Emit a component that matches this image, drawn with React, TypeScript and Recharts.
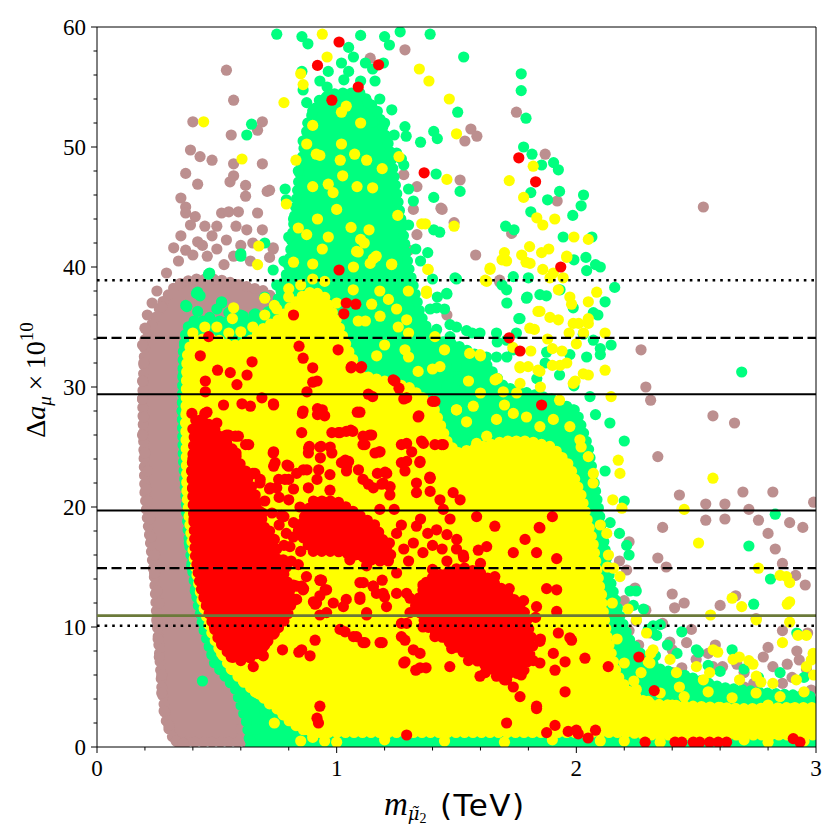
import { ComposedChart, Area, Scatter, XAxis, YAxis, ReferenceLine } from 'recharts';

type Pt = [number, number];
type Band = [number, number, number];

// tick values
const xTickValues = [0, 0.2, 0.4, 0.6, 0.8, 1, 1.2, 1.4, 1.6, 1.8, 2, 2.2, 2.4, 2.6, 2.8, 3];
const xMajorTicks = [0, 1, 2, 3];
const yTickValues = [0, 2, 4, 6, 8, 10, 12, 14, 16, 18, 20, 22, 24, 26, 28, 30, 32, 34, 36, 38, 40, 42, 44, 46, 48, 50, 52, 54, 56, 58, 60];
const yMajorTicks = [0, 10, 20, 30, 40, 50, 60];

// horizontal bands on Delta a_mu
const centralLines = [19.7, 29.4];
const twoSigmaLines = [14.9, 34.1];
const threeSigmaLines = [10.1, 38.9];
const oliveLine = 10.95;

// dense cores of each point cloud: [x, low, high]
const brownBand: Band[] = [
  [0.19, 29, 29], [0.2, 21, 34], [0.21, 19, 34.5], [0.22, 17.5, 35], [0.24, 14, 35.5],
  [0.25, 10.5, 36], [0.26, 8, 36.5], [0.27, 5, 37], [0.29, 2, 37.5], [0.31, 1, 38],
  [0.33, 0.4, 38.5], [0.4, 0.4, 39], [0.5, 0.4, 39], [0.6, 0.4, 38.5], [0.7, 0.4, 38],
  [0.76, 0.4, 37], [0.8, 0.4, 34], [0.82, 10, 10],
];

const greenBand: Band[] = [
  [0.355, 28, 28], [0.36, 24, 33], [0.37, 21, 34.5], [0.38, 18, 35], [0.4, 14.5, 35.5],
  [0.42, 12, 35.5], [0.446, 9.75, 35.5], [0.47, 8.2, 35.5], [0.49, 7, 35.5], [0.53, 6, 35.5],
  [0.58, 4.75, 35.5], [0.6, 3.5, 35.5], [0.625, 2, 35.5], [0.64, 0, 35.5], [0.7, 0, 36],
  [0.75, 0, 37], [0.8, 0, 40], [0.84, 0, 47], [0.88, 0, 52], [0.93, 0, 54], [1.0, 0, 54.5],
  [1.1, 0, 54.5], [1.17, 0, 53], [1.22, 0, 50], [1.26, 0, 45], [1.3, 0, 40], [1.35, 0, 36],
  [1.4, 0, 34], [1.5, 0, 33.5], [1.6, 0, 32.5], [1.7, 0, 30], [1.8, 0, 29.5], [1.9, 0, 29],
  [2.0, 0, 28], [2.05, 0, 25], [2.1, 0, 19], [2.14, 0, 14], [2.18, 0, 11], [2.22, 0, 9],
  [2.28, 0, 7.5], [2.35, 0, 6.5], [2.45, 0, 6], [2.6, 0, 5], [2.8, 0, 4.5], [3.0, 0, 4.2],
];

const yellowBand: Band[] = [
  [0.37, 27, 27], [0.375, 21, 32.5], [0.39, 18, 33.5], [0.41, 15, 34], [0.44, 12, 34],
  [0.47, 10, 34], [0.5, 8.5, 34], [0.55, 6.8, 33.5], [0.6, 5.6, 33.5], [0.65, 4.8, 34],
  [0.7, 4, 35], [0.75, 3.2, 35.5], [0.8, 2.2, 36.5], [0.85, 1.5, 37.5], [0.9, 1.2, 38],
  [0.95, 1.2, 37.5], [1.0, 1.2, 35.5], [1.05, 1.2, 33], [1.1, 1.2, 31], [1.2, 1.2, 30.5],
  [1.3, 1.2, 30], [1.4, 1.2, 28.5], [1.46, 1.2, 25.5], [1.5, 1.2, 24.5], [1.6, 1.2, 25],
  [1.7, 1.2, 25.5], [1.8, 1.2, 25.5], [1.9, 1.2, 25], [1.97, 1.2, 23.5], [2.02, 1.2, 21],
  [2.07, 1.2, 17], [2.1, 1.2, 13], [2.13, 1.2, 9], [2.17, 1.2, 6], [2.22, 1.2, 4.6],
  [2.3, 1.0, 3.6], [2.5, 1.0, 3.4], [2.7, 1.0, 3.2], [2.9, 1.0, 3.3], [3.0, 1.0, 3.3],
];

const redBandA: Band[] = [
  [0.395, 23, 23], [0.41, 16, 27.2], [0.43, 13.5, 27.5], [0.46, 11.5, 27], [0.48, 10.4, 26.7],
  [0.51, 8.8, 26], [0.56, 7.5, 25], [0.6, 7.3, 23.5], [0.65, 7.5, 21.5], [0.68, 8, 19.5],
  [0.72, 9, 17], [0.76, 10, 15.3], [0.8, 11.2, 13.5], [0.815, 12.3, 12.3],
];

const redBandB: Band[] = [
  [1.33, 11.8, 11.8], [1.38, 10, 14], [1.45, 9, 14.5], [1.52, 8, 15], [1.6, 7, 14.5],
  [1.67, 6.3, 13.5], [1.73, 6, 12.5], [1.78, 6.3, 11.5], [1.82, 8.5, 8.5],
];

const redBandC: Band[] = [
  [0.84, 18, 18], [0.9, 16.3, 20.5], [1.0, 16.3, 20.5], [1.08, 16, 19.5], [1.16, 15.5, 18.5],
  [1.24, 15.5, 15.5],
];

// individual points: [x (TeV), Delta a_mu x 1e10]
const brownPoints: Pt[] = [
  [0.54, 56.4], [0.57, 53.9], [0.4, 52.1], [0.69, 52.1], [0.67, 51.4], [0.56, 51.0], [0.39, 49.75],
  [0.43, 49.2], [0.48, 48.9], [0.37, 47.8], [0.57, 48.6], [0.69, 48.6], [0.42, 46.9], [0.555, 47.1],
  [0.57, 47.6], [0.62, 46.8], [0.71, 46.3], [0.35, 45.75], [0.37, 45], [0.62, 45.9], [0.52, 44.5],
  [0.55, 44.6], [0.59, 44.6], [0.67, 44.5], [0.37, 44.5], [0.41, 44.2], [0.39, 43.5], [0.45, 43.4],
  [0.5, 43.4], [0.625, 43.1], [0.69, 43.1], [0.32, 41.6], [0.37, 41.4], [0.42, 42.1], [0.46, 40.9],
  [0.54, 42.25], [0.57, 40.9], [0.735, 41.6], [0.79, 40.4], [0.53, 40.2], [0.35, 42.6], [0.4, 41.0],
  [0.44, 41.8], [0.5, 41.5], [0.6, 41.8], [0.64, 40.5], [0.72, 40.8], [0.27, 36.7], [0.2, 34.9],
  [0.25, 38], [0.29, 39.5], [0.34, 40.5], [0.48, 42.6], [0.65, 42.0], [0.58, 43.4],
  [0.19, 33.5], [0.195, 32], [0.19, 30.5], [0.19, 29], [0.195, 27.5], [0.19, 26], [0.2, 24.5],
  [0.21, 23], [0.205, 21.5], [0.21, 20.5], [0.22, 19], [0.225, 17.5], [0.24, 16], [0.24, 14.5],
  [0.25, 13], [0.26, 12], [0.25, 10.5], [0.255, 9], [0.26, 7.5], [0.27, 6], [0.27, 4.5], [0.28, 3],
  [0.3, 1.8], [0.33, 0.5], [0.36, 0.3], [0.21, 36], [0.23, 37],
  [0.6, 1.5], [0.62, 3], [0.64, 0.5], [0.7, 0.6], [0.74, 1.2], [0.72, 2.6], [0.68, 1.5], [0.76, 0.4],
  [1.75, 52.9], [1.56, 51.5], [1.585, 50.9], [1.535, 50.5], [1.87, 49.4], [1.515, 47.25], [1.92, 45.5],
  [1.435, 44.9], [2.53, 45.0], [1.49, 43.7], [1.73, 42.8], [1.58, 41.0], [1.68, 38.9], [1.46, 36.0],
  [2.27, 33.1], [2.29, 30.0], [2.31, 28.9], [2.57, 27.6], [2.66, 27.0], [1.285, 58.1], [1.14, 57.4],
  [1.28, 47.7], [1.335, 46.7], [1.32, 44.8], [1.44, 44.8], [1.27, 43.75], [1.335, 42.7], [1.3, 41.4],
  [0.72, 46.4], [0.84, 45.0], [0.735, 41.5], [1.77, 28.5], [1.57, 30.2], [1.54, 31.5], [1.68, 38.75],
  [2.34, 24.2], [2.43, 21.0], [2.54, 20.25], [2.62, 20.25], [2.695, 21.25], [2.82, 21.25], [2.72, 19.8],
  [2.54, 18.9], [2.62, 19.0], [2.76, 18.9], [2.89, 18.7], [2.945, 18.3], [2.99, 20.4], [2.36, 18.3],
  [2.8, 17.8], [2.22, 17.1], [2.83, 16.5], [2.34, 15.75], [2.375, 15.0], [2.21, 14.75], [2.86, 15.3],
  [2.915, 14.3], [2.955, 13.5], [2.245, 13.25], [2.4, 12.75], [2.665, 12.6], [2.6, 11.8], [2.45, 12.0],
  [2.41, 11.6], [2.29, 11.4], [2.75, 10.7], [2.86, 9.7], [2.965, 9.5], [2.31, 9.5], [2.39, 8.75],
  [2.46, 8.7], [2.58, 8.5], [2.4, 8.1], [2.57, 6.7], [2.61, 6.7], [2.67, 6.9], [2.78, 7.5], [2.82, 6.7],
  [2.88, 6.9], [2.93, 7.25], [2.96, 6.5], [2.44, 6.6], [2.74, 5.3], [2.86, 5.3], [2.98, 4.75],
  [2.63, 4.75], [2.53, 5.1], [2.46, 4.5], [2.32, 6.7], [2.4, 6.2], [2.2, 12.2], [2.25, 10.5],
  [2.36, 10.3], [2.5, 7.3], [2.55, 7.8], [2.7, 6.2], [2.9, 5.8], [2.92, 8.0], [2.8, 8.3], [2.7, 5.0],
  [2.48, 9.8], [2.26, 8.5], [2.22, 9.7], [2.18, 15.5],
];

const greenPoints: Pt[] = [
  [0.75, 59.4], [0.855, 59.2], [0.88, 58.6], [1.1, 59.3], [1.2, 59.2], [1.265, 59.6], [1.22, 58.5],
  [1.05, 58.3], [1.07, 57.5], [1.12, 57.0], [1.195, 57.0], [1.02, 57.0], [0.855, 56.3], [0.965, 56.3],
  [1.05, 56.3], [1.15, 56.5], [0.86, 54.75], [0.93, 55.5], [1.03, 55.6], [1.1, 55.5], [1.16, 55.5],
  [0.875, 53.7], [0.95, 54.0], [1.04, 54.0], [1.13, 53.7], [1.23, 53.1], [1.285, 51.7], [1.15, 52.1],
  [1.29, 50.9], [1.25, 49.5], [1.28, 48.5], [1.3, 46.5], [1.32, 45.5], [1.3, 43.5], [1.33, 41.5],
  [1.35, 40.5], [1.4, 39.0], [1.42, 37.5], [1.45, 36.5], [1.5, 35.0], [1.39, 59.4], [1.53, 57.5],
  [1.77, 56.1], [1.77, 54.7], [1.505, 52.9], [1.79, 52.4], [1.405, 51.3], [1.42, 50.7], [1.35, 50.4],
  [1.78, 50.0], [1.815, 49.4], [1.855, 48.5], [1.905, 48.7], [1.925, 48.1], [1.415, 47.75], [1.515, 46.3],
  [1.405, 45.8], [1.93, 46.3], [1.88, 45.6], [2.03, 46.0], [2.02, 45.1], [1.81, 46.2], [1.81, 44.6],
  [1.985, 44.3], [1.705, 43.4], [1.74, 43.1], [1.405, 43.1], [1.43, 42.9], [2.065, 42.5], [1.38, 41.2],
  [1.945, 42.5], [2.04, 40.8], [2.08, 40.2], [2.1, 40.0], [1.99, 40.6], [1.5, 39.0], [1.46, 37.75],
  [1.8, 39.1], [1.69, 38.5], [1.71, 37.0], [1.795, 37.5], [2.16, 38.3], [1.875, 37.6], [2.12, 37.1],
  [2.09, 36.0], [1.76, 35.7], [1.39, 36.5], [1.565, 34.5], [1.41, 34.5], [1.67, 33.75], [1.75, 34.5],
  [2.145, 33.5], [2.1, 33.2], [2.1, 32.7], [1.625, 32.5], [1.58, 32.3], [1.71, 32.5], [1.87, 32.0],
  [1.93, 31.0], [1.835, 30.7], [2.69, 31.25], [1.99, 30.1], [2.08, 27.7], [1.95, 28.1],
  [1.459, 37.8], [1.417, 36.6], [1.494, 39.1], [1.709, 38.1], [1.737, 39.2], [1.792, 37.4], [1.848, 37.7],
  [1.932, 38.1], [2.043, 39.7], [1.987, 36.6], [2.071, 36.2], [1.765, 35.7], [1.737, 33.1], [1.667, 32.5],
  [1.57, 32.3], [1.5, 31.7], [1.528, 30.4], [1.57, 29.2], [1.876, 32.9], [1.973, 32.7], [2.043, 32.5],
  [2.071, 33.9], [2.029, 34.4], [1.82, 29.2], [1.904, 28.6], [1.987, 28.1], [2.057, 29.2], [1.473, 35.2],
  [1.417, 34.8], [1.542, 34.7], [1.598, 34.5], [1.473, 34.2], [1.667, 34.5], [1.709, 33.9], [1.507, 30.6],
  [1.459, 30.1], [1.431, 29.0], [1.514, 28.4], [1.486, 26.7], [1.528, 25.6],
  [0.785, 46.5], [0.79, 45.6], [0.645, 51.9], [0.625, 51.0], [0.7, 42.0], [0.735, 39.75], [0.465, 39.4],
  [0.415, 37.8], [0.6, 40.9], [0.37, 36.8], [0.52, 37.0], [0.61, 35.9], [0.66, 36.1], [0.42, 37.9],
  [0.43, 37.6], [0.375, 36.7], [0.42, 36.3], [0.47, 35.8], [0.52, 37.1], [0.6, 36.0], [0.58, 34.9],
  [0.655, 36.0], [0.47, 39.5], [0.6, 41.1], [0.5, 36.5], [0.55, 36.2], [0.7, 37.5], [0.75, 38.5],
  [0.78, 40.5], [0.8, 42.5], [0.82, 44], [0.84, 48], [0.86, 50.5], [0.9, 53], [0.88, 52], [0.96, 55],
  [1.0, 53.5], [1.08, 54.5], [1.2, 52], [1.18, 54], [1.24, 51], [1.27, 49],
  [2.83, 19.4], [2.72, 16.75], [2.81, 14.0], [2.74, 11.9], [2.18, 17.8], [2.44, 9.6], [2.65, 8.1],
  [2.51, 7.9], [2.35, 10.2], [2.33, 7.6], [2.92, 9.5], [2.76, 5.8], [2.2, 20.5], [2.22, 16], [2.25, 13],
  [2.28, 11.5], [2.3, 9.8], [2.38, 8.5], [2.42, 7.8], [2.55, 6.8], [2.6, 6.3], [2.7, 6.5], [2.85, 6.2],
  [2.95, 5.8], [2.2, 25.5], [2.14, 27], [2.12, 23], [2.141, 18.7], [2.21, 16.8], [2.224, 13.0],
  [2.238, 11.8], [2.321, 10.1], [2.335, 9.3], [2.501, 8.1], [2.404, 5.6], [2.46, 5.1], [2.556, 4.8],
  [0.64, 0.5], [0.66, 1.5], [0.7, 3], [0.68, 4.5], [0.64, 5.2], [0.6, 5.5], [0.44, 5.5], [0.57, 6.2],
  [0.53, 7.2], [0.5, 8], [0.47, 9.2], [0.44, 11], [0.41, 13], [0.395, 15], [0.385, 17], [0.375, 19.5],
  [0.37, 22], [0.365, 25], [0.36, 28], [0.36, 31], [0.365, 33.5],
];

const yellowPoints: Pt[] = [
  [0.94, 59.4], [0.96, 57.5], [0.85, 56.1], [0.86, 55.2], [0.78, 53.7], [1.04, 53.4], [1.02, 52.9],
  [1.345, 56.5], [1.385, 55.5], [1.47, 54.0], [1.5, 51.1], [0.9, 51.8], [1.1, 52.0], [0.875, 50.25],
  [1.02, 50.25], [0.915, 49.4], [0.93, 49.3], [1.075, 49.4], [1.125, 48.9], [1.26, 49.2], [0.83, 48.9],
  [1.015, 48.9], [1.19, 48.2], [1.025, 47.6], [0.9, 46.7], [0.965, 46.9], [0.985, 46.2], [1.085, 46.7],
  [1.15, 46.6], [1.46, 47.3], [0.79, 45.25], [1.0, 44.8], [1.255, 44.3], [0.92, 44.0], [0.84, 43.25],
  [0.875, 42.7], [0.965, 42.5], [1.06, 43.3], [1.135, 43.1], [1.355, 43.6], [1.49, 43.4], [1.1, 42.3],
  [1.115, 42.0], [0.94, 41.5], [1.09, 41.25], [1.165, 40.9], [0.82, 40.4], [0.9, 40.25], [1.07, 40.0],
  [1.14, 40.3], [1.23, 40.25], [1.38, 39.8], [0.445, 52.1], [0.605, 49.0], [0.675, 41.75], [0.67, 40.2],
  [0.8, 38.2], [0.7, 37.4], [0.74, 36.8], [0.57, 36.6], [0.565, 35.7],
  [1.82, 48.4], [1.72, 47.2], [1.78, 45.8], [1.835, 44.1], [1.86, 43.5], [1.91, 44.0], [1.37, 43.6],
  [1.99, 42.5], [1.805, 41.7], [1.885, 41.5], [1.7, 41.2], [1.69, 40.6], [1.64, 39.8], [1.62, 38.9],
  [1.79, 40.4], [1.86, 39.8], [1.89, 39.1], [1.925, 38.1], [1.945, 39.1], [1.96, 40.8], [1.375, 37.8],
  [1.84, 36.3], [1.89, 35.8], [1.98, 36.9], [2.085, 37.9], [2.01, 35.3], [2.05, 35.7], [1.825, 34.8],
  [1.97, 34.5], [2.03, 34.5], [2.12, 34.5], [1.9, 33.2], [1.735, 33.3], [1.81, 33.0], [1.94, 33.0],
  [1.555, 32.8], [1.6, 32.6], [1.45, 33.1], [1.765, 31.6], [1.84, 31.4], [1.9, 31.8], [1.995, 30.5],
  [2.05, 31.0], [2.12, 31.4], [2.145, 29.2], [1.93, 28.9], [1.765, 30.3], [1.67, 30.7], [1.5, 28.1],
  [1.88, 34.0], [1.96, 32.0], [2.0, 33.6], [1.85, 30.0], [1.7, 28.5], [1.6, 29.5], [1.55, 30.5],
  [1.4, 31.5], [1.3, 32.5], [1.2, 33.5], [1.12, 35.5], [1.25, 36.5], [1.18, 38.0], [1.3, 34.5],
  [1.083, 41.3], [1.153, 40.7], [1.229, 40.2], [1.382, 39.8], [1.64, 39.9], [1.626, 38.8], [1.709, 40.5],
  [1.772, 41.0], [1.807, 40.3], [1.855, 41.2], [1.904, 39.5], [1.96, 40.9], [2.05, 42.3], [1.069, 38.1],
  [1.146, 36.9], [1.216, 37.3], [1.299, 38.0], [1.375, 38.0], [1.09, 35.5], [1.181, 35.9], [1.257, 35.0],
  [1.292, 35.6], [1.41, 34.2], [1.167, 32.6], [1.285, 33.1], [1.34, 31.3], [1.431, 31.7], [1.598, 32.7],
  [1.661, 30.6], [1.695, 29.6], [1.751, 29.5], [1.799, 31.7], [1.848, 31.3], [1.932, 31.8], [1.987, 30.3],
  [2.029, 31.1], [2.05, 35.3], [1.987, 35.3], [1.925, 35.6], [1.848, 36.3], [1.973, 37.5], [2.05, 37.1],
  [1.806, 34.9], [1.765, 31.7], [1.626, 25.9], [1.584, 25.3], [1.5, 28.1], [1.542, 27.1], [1.57, 28.4],
  [1.667, 27.3], [1.737, 27.8], [1.792, 27.5], [1.848, 26.7], [1.904, 27.3], [1.973, 26.7], [2.015, 25.6],
  [2.05, 24.2], [2.071, 22.8],
  [2.57, 22.4], [2.45, 19.8], [2.51, 17.0], [2.76, 14.9], [2.85, 14.3], [2.89, 13.7], [2.65, 12.4],
  [2.69, 11.7], [2.88, 11.9], [2.56, 11.0], [2.89, 10.4], [2.96, 9.3], [2.86, 8.7], [2.59, 7.9],
  [2.68, 7.5], [2.72, 7.2], [2.98, 7.25], [2.99, 6.0], [2.77, 5.4], [2.53, 5.6], [2.43, 5.0],
  [2.31, 7.8], [2.3, 7.1], [2.27, 6.2], [2.175, 23.9], [2.182, 22.8], [2.152, 20.6], [2.19, 19.9],
  [2.127, 17.8], [2.134, 16.0], [2.155, 14.9], [2.182, 14.2], [2.105, 12.7], [2.216, 11.5],
  [2.251, 10.6], [2.293, 9.5], [2.32, 8.1], [2.307, 7.0], [2.391, 7.3], [2.418, 6.2], [2.501, 6.7],
  [2.556, 6.2], [2.681, 5.6], [2.751, 5.9], [2.82, 5.3], [2.918, 5.6], [2.96, 6.7], [2.988, 7.8],
  [2.737, 6.9], [2.654, 7.3], [2.571, 8.1], [2.751, 10.6], [2.877, 14.2], [2.89, 12.1], [2.925, 9.3],
  [2.25, 4.8], [2.35, 4.5], [2.45, 4.2], [2.55, 4.6], [2.65, 4.1], [2.75, 4.5], [2.85, 4.2],
  [2.95, 4.6], [2.4, 3.5], [2.3, 3.8], [2.6, 3.3], [2.8, 3.5], [2.9, 3.2], [2.2, 0.5], [2.35, 0.4],
  [2.6, 0.6], [2.8, 0.4], [2.95, 0.5], [2.5, 0.5], [2.7, 0.6],
  [0.85, 0.5], [1.0, 0.4], [1.2, 0.6], [1.45, 0.5], [1.7, 0.4], [1.9, 0.6], [2.1, 0.5],
  [0.38, 31], [0.375, 28], [0.38, 25], [0.38, 22], [0.39, 19.5], [0.41, 16.5], [0.43, 13.5],
  [0.455, 11.5], [0.48, 9.5], [0.52, 7.8], [0.56, 6.5], [0.61, 5.5], [0.66, 4.6], [0.72, 3.8],
  [0.77, 3.0], [0.82, 2.2], [0.88, 1.5], [0.68, 4.4], [0.72, 3.6], [0.78, 3.0], [0.85, 2.3],
  [0.74, 2.0], [0.9, 0.8], [0.95, 0.5],
  [0.4, 34.5], [0.45, 35], [0.5, 35], [0.55, 34.5], [0.6, 34.6], [0.65, 35], [0.7, 36], [0.75, 36.5],
  [0.8, 37.5], [0.85, 38.5], [0.9, 39], [0.95, 38.8], [1.0, 37],
  [2.02, 25], [2.07, 22], [2.1, 18.5], [2.13, 15], [2.15, 12], [2.17, 9], [2.2, 7], [2.24, 5.5],
];

const redPoints: Pt[] = [
  [0.92, 56.8], [1.01, 58.75], [1.175, 56.85], [1.09, 55.0], [0.98, 53.9], [1.365, 47.85], [1.01, 39.75],
  [1.76, 49.1], [1.83, 47.1], [1.935, 40.0], [1.72, 34.1], [1.765, 33.0], [1.855, 28.5], [0.82, 36.0],
  [1.04, 37.0], [1.08, 36.9], [1.03, 36.1], [1.006, 33.1], [1.06, 31.6], [1.1, 31.6], [1.236, 30.6],
  [1.26, 29.9], [1.15, 29.2], [1.28, 29.0], [1.4, 28.8], [1.34, 27.5], [0.86, 28.0], [0.92, 28.2],
  [0.95, 27.6], [0.843, 33.4], [0.86, 32.4], [0.9, 31.6], [0.9, 30.4], [0.918, 30.5], [0.876, 29.6],
  [0.466, 34.2], [0.431, 32.6], [0.503, 31.4], [0.556, 31.2], [0.626, 31.0], [0.647, 32.1], [0.584, 30.2],
  [0.452, 30.5], [0.452, 29.6], [0.528, 28.5], [0.605, 28.6], [0.64, 28.4], [0.688, 29.1], [0.737, 28.5],
  [0.396, 27.8], [0.459, 27.9], [0.736, 28.6], [0.857, 27.8], [0.92, 27.7], [0.94, 28.1], [1.097, 27.9],
  [1.343, 27.6], [1.41, 28.8],
  [0.549, 26.0], [0.577, 25.9], [0.633, 25.2], [0.737, 24.6], [0.793, 23.5], [0.737, 23.4], [0.883, 24.9],
  [0.973, 25.0], [0.925, 23.1], [0.876, 23.1], [0.8, 22.3], [0.918, 22.3], [1.036, 23.9], [0.64, 22.7],
  [0.681, 22.3], [0.723, 21.6], [0.758, 22.3], [0.59, 25.9], [0.62, 25.2], [0.854, 26.2], [0.98, 26.2],
  [1.04, 26.3], [1.11, 25.9], [0.735, 24.5], [0.8, 23.4], [0.882, 24.5], [0.93, 25.0], [0.98, 24.5],
  [1.02, 23.7], [1.16, 24.5], [1.17, 22.8], [1.27, 25.2], [1.27, 23.7], [0.65, 22.8], [0.68, 22.0],
  [0.62, 21.4], [1.007, 26.2], [1.067, 26.3], [1.146, 26.0], [1.292, 25.3], [1.362, 25.3], [1.41, 25.2],
  [1.445, 25.2], [0.886, 25.05], [0.935, 25.05], [1.118, 25.2], [1.178, 24.6], [0.743, 23.7], [0.932, 24.1],
  [1.05, 23.8], [1.292, 23.8], [1.347, 23.7], [0.659, 22.8], [0.861, 23.1], [0.972, 22.7], [1.041, 23.0],
  [1.202, 22.9], [1.285, 23.0], [1.39, 22.4], [0.784, 22.3], [0.833, 22.8], [1.11, 22.3], [1.194, 22.0],
  [1.333, 22.0], [1.39, 21.3], [1.486, 21.2], [0.75, 21.6], [0.882, 21.6], [0.972, 21.4], [1.153, 21.6],
  [1.222, 21.0], [1.431, 20.6], [1.515, 20.6], [1.062, 31.7], [1.104, 31.7], [1.243, 30.5], [1.132, 29.4],
  [1.292, 29.1], [1.086, 27.9], [1.059, 26.4], [1.138, 26.0], [1.11, 25.2], [1.181, 24.6], [1.354, 25.5],
  [1.438, 25.2], [1.313, 24.6], [1.348, 23.8], [1.389, 22.4], [1.209, 22.8], [1.188, 21.9], [1.223, 21.7],
  [1.042, 23.4], [1.091, 23.1], [1.132, 21.9], [1.014, 26.2], [1.333, 21.2],
  [0.666, 18.4], [0.77, 19.3], [0.847, 20.0], [0.819, 17.5], [0.805, 16.7], [0.777, 15.6], [1.055, 17.3],
  [1.25, 17.8], [1.333, 18.4], [1.417, 18.1], [1.501, 17.3], [1.473, 19.0], [1.445, 19.8], [1.528, 16.0],
  [0.874, 14.2], [0.93, 13.9], [0.958, 13.1], [0.86, 13.1], [0.916, 12.0], [1.097, 13.7], [1.097, 12.3],
  [1.153, 13.4], [1.194, 12.8], [1.25, 14.5], [1.292, 12.8], [1.362, 13.4], [1.417, 12.3], [1.473, 12.8],
  [1.528, 11.4], [1.208, 11.7], [1.125, 11.2], [1.028, 11.7], [0.958, 11.2], [0.833, 12.3], [1.306, 11.2],
  [0.78, 19.2], [0.82, 18.7], [0.86, 17.6], [0.866, 19.2], [0.854, 13.4], [0.937, 13.9], [0.903, 12.1],
  [0.986, 12.0], [1.04, 12.3], [1.166, 12.8], [1.19, 13.9], [1.125, 15.1], [1.014, 9.8], [1.07, 9.2],
  [1.11, 8.7], [1.19, 8.7], [1.27, 10.3], [1.27, 9.2], [1.28, 7.0], [1.32, 8.1], [1.33, 6.4], [0.93, 11.0],
  [0.93, 12.6], [0.854, 8.1], [0.774, 8.1], [0.694, 7.6], [0.652, 6.7], [0.889, 7.6], [0.93, 3.4],
  [0.924, 2.0], [1.292, 1.0], [0.689, 7.7], [0.842, 7.9], [0.91, 8.9], [0.932, 13.9], [0.862, 13.2],
  [0.91, 11.9], [0.952, 13.1], [0.834, 13.4], [0.82, 12.2], [0.918, 2.4],
  [0.7, 20.5], [0.73, 19.5], [0.76, 18.5], [0.79, 17.8], [0.72, 21.5], [0.76, 20.8], [0.8, 20.6],
  [0.82, 21.5], [0.7, 16.8], [0.74, 17.3], [0.78, 16.8], [0.81, 15.5], [0.84, 15.2], [0.85, 16.3],
  [1.28, 16.5], [1.32, 17], [1.36, 16.2], [1.4, 16.8], [1.44, 16.5], [1.38, 17.8], [1.3, 15.5],
  [1.46, 17.7], [1.5, 16.5], [1.35, 19], [1.27, 18.5], [1.22, 17], [1.18, 19.8], [1.24, 19.8],
  [1.584, 19.2], [1.66, 18.4], [1.845, 18.3], [1.9, 19.2], [1.786, 17.3], [1.737, 16.2], [1.834, 16.2],
  [1.918, 15.7], [1.626, 16.7], [1.591, 16.4], [1.876, 13.2], [1.918, 13.1], [1.918, 11.3], [1.834, 11.7],
  [1.925, 9.5], [1.973, 9.1], [1.848, 8.8], [1.904, 7.8], [1.953, 7.1], [2.036, 7.4], [1.848, 7.0],
  [1.911, 6.4], [1.953, 4.6], [1.834, 3.2], [1.709, 2.0], [1.876, 1.2], [1.911, 1.8], [1.966, 1.3],
  [2.008, 1.1], [2.049, 0.75], [1.035, 9.6], [1.083, 9.2], [1.118, 8.7], [1.181, 8.7], [1.125, 11.0],
  [1.097, 12.5], [1.111, 13.7], [1.055, 15.6], [1.152, 13.4], [1.2, 12.5], [1.25, 12.8], [1.306, 12.4],
  [1.292, 10.3], [1.285, 8.9], [1.348, 7.8], [1.285, 7.1], [1.348, 6.6], [1.373, 6.6], [1.472, 6.7],
  [1.737, 5.0], [1.765, 4.2], [1.598, 5.9], [1.667, 5.9], [1.709, 5.6], [1.389, 22.5], [1.848, 18.25],
  [1.98, 8.9], [2.133, 6.7], [1.834, 3.4], [2.0, 1.4], [2.08, 1.4],
  [2.261, 7.5], [2.325, 4.7], [2.287, 0.4], [2.412, 0.4], [2.44, 0.4], [2.488, 0.4], [2.515, 0.4],
  [2.556, 0.4], [2.592, 0.4], [2.627, 0.4], [2.905, 0.7], [2.933, 0.4],
  [0.4, 26.5], [0.4, 24], [0.4, 21.5], [0.405, 19], [0.42, 16.5], [0.44, 14], [0.465, 12], [0.49, 10],
  [0.52, 8.6], [0.56, 7.5], [0.6, 7.2], [0.64, 7.5], [0.7, 8.5], [0.74, 9.5], [0.78, 10.5], [0.81, 12],
  [0.82, 13.5], [0.79, 15], [0.75, 16.5], [0.72, 18], [0.69, 19.5], [0.66, 21], [0.62, 23], [0.58, 24.5],
  [0.54, 26], [0.5, 27], [0.45, 27.8],
  [1.33, 11.5], [1.36, 13.5], [1.4, 14.8], [1.46, 15.5], [1.53, 15.8], [1.6, 15.3], [1.66, 14.2],
  [1.72, 13.2], [1.78, 12.2], [1.83, 10.8], [1.85, 9], [1.82, 7.2], [1.77, 6], [1.7, 5.6], [1.62, 6.2],
  [1.55, 7.2], [1.48, 8.2], [1.41, 9.2], [1.36, 10],
];

const BROWN = '#bc8f8f';
const GREEN = '#00ff7f';
const YELLOW = '#ffff00';
const RED = '#ff0000';

const toPoints = (pts: Pt[]) => pts.map(([x, y]) => ({ x, y }));
const toBand = (band: Band[]) => band.map(([x, lo, hi]) => ({ x, r: [lo, hi] }));

const dot = (color: string) => (props: any) =>
  <circle cx={props.cx} cy={props.cy} r={5.6} fill={color} />;

// outline of a dense cloud drawn as a row of marker-sized dots
const bandStyle = (color: string) => ({
  type: 'linear' as const,
  dataKey: 'r',
  fill: color,
  fillOpacity: 1,
  stroke: color,
  strokeWidth: 11,
  strokeDasharray: '0 8.5',
  strokeLinecap: 'round' as const,
  dot: false,
  activeDot: false,
  isAnimationActive: false,
});

const serif = '"Liberation Serif", "DejaVu Serif", serif';

function XTick({ x, y, payload }: any) {
  const major = xMajorTicks.includes(payload.value);
  return (
    <g>
      <line x1={x} x2={x} y1={y} y2={y + (major ? 6 : 3.5)} stroke="#000" strokeWidth={1} />
      {major && (
        <text x={x} y={y + 29} textAnchor="middle" fontFamily={serif} fontSize={23} fill="#000">
          {payload.value}
        </text>
      )}
    </g>
  );
}

function YTick({ x, y, payload }: any) {
  const major = yMajorTicks.includes(payload.value);
  return (
    <g>
      <line x1={x} x2={x - (major ? 6 : 3.5)} y1={y} y2={y} stroke="#000" strokeWidth={1} />
      {major && (
        <text x={x - 11} y={y + 8} textAnchor="end" fontFamily={serif} fontSize={23} fill="#000">
          {payload.value}
        </text>
      )}
    </g>
  );
}

export default function App() {
  return (
    <div style={{ position: 'absolute', left: 0, top: 0, width: 840, height: 840, background: '#fff' }}>
      <ComposedChart width={840} height={840} margin={{ top: 27, right: 24, bottom: 63, left: 37 }}>
        <XAxis
          type="number"
          dataKey="x"
          domain={[0, 3]}
          allowDataOverflow
          ticks={xTickValues}
          interval={0}
          tickSize={0}
          tickMargin={0}
          tickLine={false}
          tick={<XTick />}
          axisLine={{ stroke: '#000', strokeWidth: 1 }}
          height={30}
        />
        <YAxis
          type="number"
          domain={[0, 60]}
          allowDataOverflow
          ticks={yTickValues}
          interval={0}
          tickSize={0}
          tickMargin={0}
          tickLine={false}
          tick={<YTick />}
          axisLine={{ stroke: '#000', strokeWidth: 1 }}
          width={60}
        />
        <Area {...bandStyle(BROWN)} data={toBand(brownBand)} zIndex={101} />
        <Scatter data={toPoints(brownPoints)} dataKey="y" fill={BROWN} shape={dot(BROWN)} isAnimationActive={false} zIndex={102} />
        <Area {...bandStyle(GREEN)} data={toBand(greenBand)} zIndex={103} />
        <Scatter data={toPoints(greenPoints)} dataKey="y" fill={GREEN} shape={dot(GREEN)} isAnimationActive={false} zIndex={104} />
        <Area {...bandStyle(YELLOW)} data={toBand(yellowBand)} zIndex={105} />
        <Scatter data={toPoints(yellowPoints)} dataKey="y" fill={YELLOW} shape={dot(YELLOW)} isAnimationActive={false} zIndex={106} />
        <Area {...bandStyle(RED)} data={toBand(redBandA)} zIndex={107} />
        <Area {...bandStyle(RED)} data={toBand(redBandB)} zIndex={107} />
        <Area {...bandStyle(RED)} data={toBand(redBandC)} zIndex={107} />
        <Scatter data={toPoints(redPoints)} dataKey="y" fill={RED} shape={dot(RED)} isAnimationActive={false} zIndex={108} />
        {centralLines.map((v) => (
          <ReferenceLine key={`c${v}`} y={v} stroke="#000" strokeWidth={2} zIndex={700} />
        ))}
        {twoSigmaLines.map((v) => (
          <ReferenceLine key={`d${v}`} y={v} stroke="#000" strokeWidth={2.2} strokeDasharray="10 4.5" zIndex={700} />
        ))}
        {threeSigmaLines.map((v) => (
          <ReferenceLine key={`t${v}`} y={v} stroke="#000" strokeWidth={2.6} strokeDasharray="2.6 5" zIndex={700} />
        ))}
        <ReferenceLine y={oliveLine} stroke="#6b7a3a" strokeWidth={2.6} zIndex={700} />
        <ReferenceLine y={60} stroke="#000" strokeWidth={1} zIndex={700} />
        <ReferenceLine x={3} stroke="#000" strokeWidth={1} zIndex={700} />
      </ComposedChart>
      <svg width={840} height={840} style={{ position: 'absolute', left: 0, top: 0, pointerEvents: 'none' }}>
        <text x={384} y={815} fontFamily={serif} fill="#000">
          <tspan fontStyle="italic" fontSize={33}>m</tspan>
          <tspan fontFamily='"DejaVu Serif", serif' fontStyle="italic" fontSize={18} dy={5}>{'\u03bc\u0303'}</tspan>
          <tspan fontSize={14} dy={3}>2</tspan>
        </text>
        <text x={440} y={816} fontFamily='"DejaVu Sans", sans-serif' fontSize={31} letterSpacing={1.5} fill="#000">
          (TeV)
        </text>
        <text transform="translate(45,380) rotate(-90)" textAnchor="middle" fontFamily={serif} fontSize={28} fill="#000">
          {'\u0394'}
          <tspan fontStyle="italic">a</tspan>
          <tspan fontStyle="italic" fontSize={19} dy={6}>{'\u03bc'}</tspan>
          <tspan dy={-6}>{'\u2009\u00d7\u200910'}</tspan>
          <tspan fontSize={19} dy={-12}>10</tspan>
        </text>
      </svg>
    </div>
  );
}
